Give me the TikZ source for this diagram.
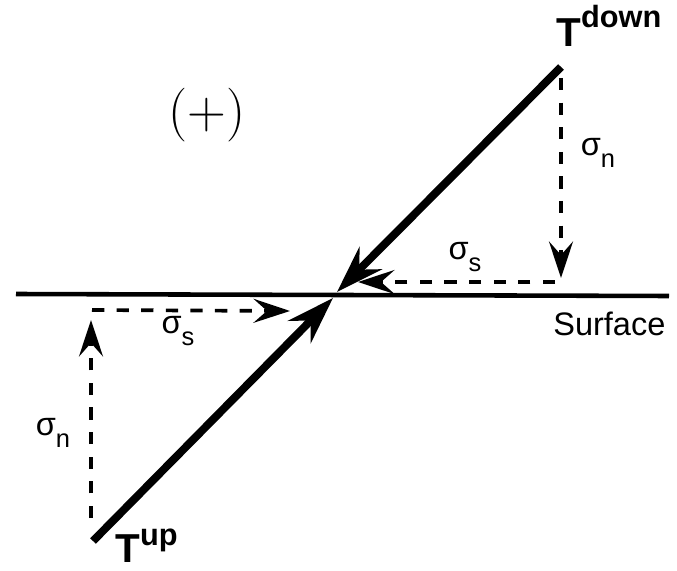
\documentclass[tikz,border=0pt]{standalone}
\usepackage{fontspec}
\setmainfont{Liberation Sans}
\usetikzlibrary{arrows.meta}

\tikzset{
  plate/.style={line width=4.5pt,line cap=butt},
  slip/.style={line width=2.1pt,dash pattern=on 7pt off 7pt},
  bigtip/.style={-{Stealth[length=0.95cm,width=0.63cm,inset=0.32cm]}},
  smalltip/.style={-{Stealth[length=0.73cm,width=0.48cm,inset=0.27cm]}},
  lbl/.style={inner sep=0pt,font=\fontsize{18.5}{20}\selectfont}
}
\newcommand{\sig}[1]{σ\raisebox{-0.24cm}{\fontsize{14.5}{15}\selectfont #1}}
\newcommand{\traction}[2]{{\bfseries\fontsize{23}{26}\selectfont T\raisebox{#2}{\fontsize{17.5}{18}\selectfont #1}}}

\begin{document}
\begin{tikzpicture}[x=0.02cm,y=-0.02cm]
        \useasboundingbox (0,0) rectangle (677,571);
        % surface
        \coordinate (sleft) at (16,294);
        \coordinate (sright) at (669,296);
        \draw[line width=2.6pt] (sleft) -- (sright);
        \node[lbl,anchor=base west] (surf) at (553,336) {Surface};
        % upper block
        \coordinate (dtop) at (561,67);
        \coordinate (dtip) at (337,292);
        \coordinate (dcorner) at (561,78);
        \coordinate (dfoot) at (561,278);
        \coordinate (dstart) at (555,282);
        \coordinate (dend) at (358,282);
        \draw[plate,bigtip] (dtop) -- (dtip);
        \draw[slip,smalltip] (dcorner) -- (dfoot);
        \draw[slip,smalltip] (dstart) -- (dend);
        \node[lbl] (dn) at (598,153) {\sig{n}};
        \node[lbl] (ds) at (465,257) {\sig{s}};
        \node[inner sep=0pt,anchor=base west] (tdown) at (556,47) {\traction{down}{0.4cm}};
        % lower block
        \coordinate (ubot) at (93,541);
        \coordinate (utip) at (333,298);
        \coordinate (ucorner) at (91,518);
        \coordinate (uhead) at (91,320);
        \coordinate (ustart) at (92,310);
        \coordinate (uend) at (290,311);
        \draw[plate,bigtip] (ubot) -- (utip);
        \draw[slip,smalltip] (ucorner) -- (uhead);
        \draw[slip,smalltip] (ustart) -- (uend);
        \node[lbl] (us) at (178,331) {\sig{s}};
        \node[lbl] (un) at (53,433) {\sig{n}};
        \node[inner sep=0pt,anchor=base west] (tup) at (115,562) {\traction{up}{0.34cm}};
        % sign
        \node (sign) at (207,115) {\scalebox{1.23}{\fontsize{24.88}{30}\selectfont$(+)$}};
\end{tikzpicture}
\end{document}
